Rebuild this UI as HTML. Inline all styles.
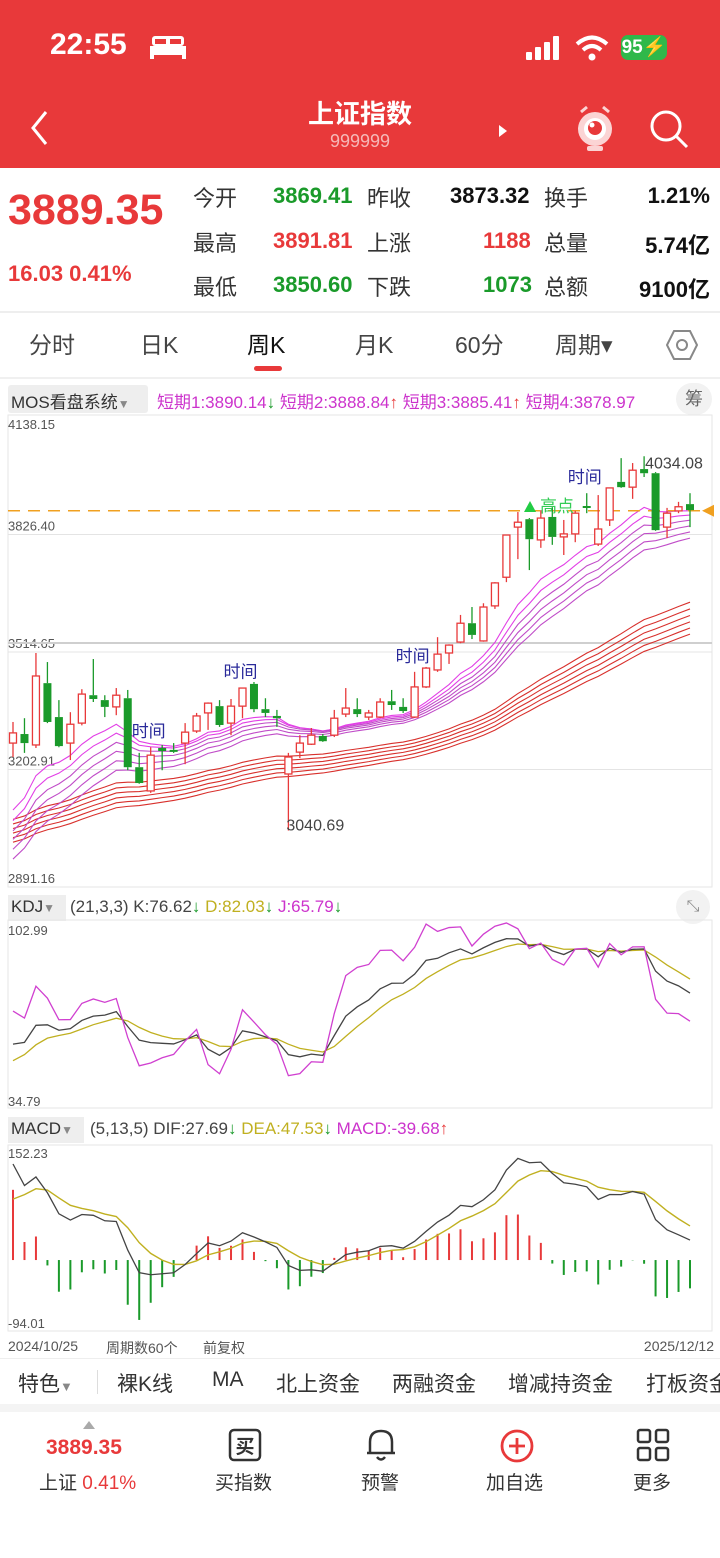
<!DOCTYPE html>
<html><head><meta charset="utf-8">
<style>
*{margin:0;padding:0;box-sizing:border-box}
body{width:720px;height:1558px;position:relative;background:#fff;font-family:"Liberation Sans","Noto Sans CJK SC",sans-serif;overflow:hidden}
.a{position:absolute;white-space:nowrap}
.hdr{position:absolute;left:0;top:0;width:720px;height:168px;background:#e8393a}
.lbl{font-size:22px;color:#333}
.g{color:#1a9a2a}.r{color:#e8393a}.k{color:#111}
.tab{font-size:23px;color:#444;top:326px}
.leg{font-size:17px;top:388px}
.small{font-size:14px;color:#555}
.t2{font-size:21px;color:#333;top:1368px}
.nav{font-size:19px;color:#333;top:1468px}
</style></head><body>
<div class="hdr"></div>
<div class="a" style="left:50px;top:28px;font-size:30px;font-weight:bold;color:#fff">22:55</div>
<svg class="a" style="left:150px;top:34px" width="36" height="26"><rect x="2" y="2" width="32" height="10" rx="3" fill="#fff"/><rect x="0" y="12" width="36" height="9" fill="#fff"/><rect x="0" y="20" width="4" height="5" fill="#fff"/><rect x="32" y="20" width="4" height="5" fill="#fff"/><rect x="5" y="5" width="11" height="5" fill="#e8393a"/><rect x="20" y="5" width="11" height="5" fill="#e8393a"/></svg>
<svg class="a" style="left:525px;top:36px" width="40" height="24"><rect x="1" y="16" width="6" height="8" rx="1" fill="#fff"/><rect x="10" y="11" width="6" height="13" rx="1" fill="#fff"/><rect x="19" y="6" width="6" height="18" rx="1" fill="#fff"/><rect x="28" y="0" width="6" height="24" rx="1" fill="#fff"/></svg>
<svg class="a" style="left:575px;top:34px" width="34" height="28"><path d="M2 10 Q17 -3 32 10" stroke="#fff" stroke-width="4" fill="none"/><path d="M8 16 Q17 8 26 16" stroke="#fff" stroke-width="4" fill="none"/><circle cx="17" cy="23" r="3.5" fill="#fff"/></svg>
<div class="a" style="left:621px;top:35px;width:46px;height:25px;background:#2fb84a;border-radius:7px;color:#fff;font-weight:bold;font-size:19px;text-align:center;line-height:25px">95⚡</div>
<svg class="a" style="left:28px;top:110px" width="24" height="36"><path d="M18 2 L5 18 L18 34" stroke="#fff" stroke-width="3" fill="none"/></svg>
<div class="a" style="left:0;width:720px;text-align:center;top:94px;font-size:26px;font-weight:bold;color:#fff">上证指数</div>
<div class="a" style="left:0;width:720px;text-align:center;top:131px;font-size:18px;color:#f6b8b8">999999</div>
<svg class="a" style="left:498px;top:124px" width="10" height="14"><path d="M1 1 L9 7 L1 13Z" fill="#fff"/></svg>
<svg class="a" style="left:573px;top:102px" width="44" height="50"><circle cx="22" cy="27" r="17" fill="#fbd4d4"/><circle cx="22" cy="27" r="11" fill="#fff"/><circle cx="22" cy="26" r="7" fill="#e8393a"/><circle cx="19" cy="23" r="2.5" fill="#fff"/><rect x="14" y="44" width="16" height="5" rx="2" fill="#fbd4d4"/><path d="M8 10 L14 5 M36 10 L30 5" stroke="#fbd4d4" stroke-width="3"/></svg>
<svg class="a" style="left:648px;top:108px" width="42" height="42"><circle cx="18" cy="18" r="14" stroke="#fff" stroke-width="3" fill="none"/><path d="M28 28 L39 39" stroke="#fff" stroke-width="3"/></svg>

<div class="a r" style="left:8px;top:186px;font-size:43px;font-weight:bold">3889.35</div>
<div class="a r" style="left:8px;top:261px;font-size:22px;font-weight:bold">16.03 0.41%</div>
<div class="a lbl" style="left:193px;top:181px">今开</div>
<div class="a lbl g" style="left:273px;top:183px;font-weight:bold">3869.41</div>
<div class="a lbl" style="left:367px;top:181px">昨收</div>
<div class="a lbl k" style="left:450px;top:183px;font-weight:bold">3873.32</div>
<div class="a lbl" style="left:544px;top:181px">换手</div>
<div class="a lbl k" style="right:10px;top:183px;font-weight:bold">1.21%</div>
<div class="a lbl" style="left:193px;top:226px">最高</div>
<div class="a lbl r" style="left:273px;top:228px;font-weight:bold">3891.81</div>
<div class="a lbl" style="left:367px;top:226px">上涨</div>
<div class="a lbl r" style="left:483px;top:228px;font-weight:bold">1188</div>
<div class="a lbl" style="left:544px;top:226px">总量</div>
<div class="a lbl k" style="right:10px;top:228px;font-weight:bold">5.74亿</div>
<div class="a lbl" style="left:193px;top:270px">最低</div>
<div class="a lbl g" style="left:273px;top:272px;font-weight:bold">3850.60</div>
<div class="a lbl" style="left:367px;top:270px">下跌</div>
<div class="a lbl g" style="left:483px;top:272px;font-weight:bold">1073</div>
<div class="a lbl" style="left:544px;top:270px">总额</div>
<div class="a lbl k" style="right:10px;top:272px;font-weight:bold">9100亿</div>
<div class="a" style="left:0;top:311px;width:720px;height:2px;background:#eee"></div>

<div class="a tab" style="left:29px">分时</div>
<div class="a tab" style="left:140px">日K</div>
<div class="a tab" style="left:247px;color:#111">周K</div>
<div class="a" style="left:254px;top:366px;width:28px;height:5px;border-radius:3px;background:#e8393a"></div>
<div class="a tab" style="left:355px">月K</div>
<div class="a tab" style="left:455px">60分</div>
<div class="a tab" style="left:555px">周期▾</div>
<svg class="a" style="left:666px;top:329px" width="32" height="32"><polygon points="8,2 24,2 31,16 24,30 8,30 1,16" stroke="#888" stroke-width="2" fill="none"/><circle cx="16" cy="16" r="5" stroke="#888" stroke-width="2" fill="none"/></svg>
<div class="a" style="left:0;top:377px;width:720px;height:2px;background:#f0f0f0"></div>

<div class="a leg" style="left:8px;top:385px;height:28px;width:140px;background:#eee;border-radius:3px;color:#333;padding:3px 3px">MOS看盘系统<span style="color:#888;font-size:12px">▼</span></div>
<div class="a leg" style="left:157px;color:#cc33cc">短期1:3890.14<span class="g">↓</span> 短期2:3888.84<span class="r">↑</span> 短期3:3885.41<span class="r">↑</span> 短期4:3878.97</div>
<div class="a" style="left:676px;top:383px;width:36px;height:32px;background:#f2f2f2;border-radius:16px;font-size:18px;color:#666;text-align:center;line-height:32px">筹</div>

<div class="a leg" style="left:8px;top:895px;height:26px;width:58px;background:#eee;color:#333;padding:2px 3px">KDJ<span style="color:#888;font-size:12px">▼</span></div>
<div class="a leg" style="left:70px;top:897px;color:#444">(21,3,3) K:76.62<span class="g">↓</span> <span style="color:#c0b020">D:82.03</span><span class="g">↓</span> <span style="color:#cc33cc">J:65.79</span><span class="g">↓</span></div>
<div class="a" style="left:676px;top:890px;width:34px;height:34px;background:#f2f2f2;border-radius:17px;font-size:16px;color:#888;text-align:center;line-height:34px">⤡</div>
<div class="a leg" style="left:8px;top:1117px;height:26px;width:76px;background:#eee;color:#333;padding:2px 3px">MACD<span style="color:#888;font-size:12px">▼</span></div>
<div class="a leg" style="left:90px;top:1119px;color:#444">(5,13,5) DIF:27.69<span class="g">↓</span> <span style="color:#c0b020">DEA:47.53</span><span class="g">↓</span> <span style="color:#cc33cc">MACD:-39.68</span><span class="r">↑</span></div>

<svg id="chart" class="a" style="left:0;top:0" width="720" height="1360"></svg>

<div class="a small" style="left:8px;top:1338px">2024/10/25</div>
<div class="a small" style="left:106px;top:1338px">周期数60个</div>
<div class="a small" style="left:203px;top:1338px">前复权</div>
<div class="a small" style="right:6px;top:1338px">2025/12/12</div>
<div class="a" style="left:0;top:1358px;width:720px;height:1px;background:#eee"></div>
<div class="a t2" style="left:18px">特色<span style="font-size:13px;color:#888">▼</span></div>
<div class="a" style="left:97px;top:1370px;width:1px;height:24px;background:#ddd"></div>
<div class="a t2" style="left:117px">裸K线</div>
<div class="a t2" style="left:212px">MA</div>
<div class="a t2" style="left:276px">北上资金</div>
<div class="a t2" style="left:392px">两融资金</div>
<div class="a t2" style="left:508px">增减持资金</div>
<div class="a t2" style="left:646px">打板资金</div>
<div class="a" style="left:0;top:1404px;width:720px;height:8px;background:#f4f4f4"></div>

<svg class="a" style="left:82px;top:1420px" width="14" height="10"><path d="M1 9 L7 1 L13 9Z" fill="#aaa"/></svg>
<div class="a r" style="left:46px;top:1436px;font-size:21px;font-weight:bold">3889.35</div>
<div class="a nav" style="left:39px">上证 <span class="r">0.41%</span></div>
<svg class="a" style="left:228px;top:1428px" width="34" height="34"><rect x="2" y="2" width="30" height="30" rx="4" stroke="#333" stroke-width="2.5" fill="none"/><text x="17" y="25" text-anchor="middle" font-size="19" font-weight="bold" fill="#333" font-family="Noto Sans CJK SC">买</text></svg>
<div class="a nav" style="left:215px">买指数</div>
<svg class="a" style="left:364px;top:1427px" width="34" height="36"><path d="M6 26 L6 15 Q6 4 17 4 Q28 4 28 15 L28 26 Z M3 26 L31 26" stroke="#333" stroke-width="2.5" fill="none"/><path d="M13 30 Q17 35 21 30" stroke="#333" stroke-width="2.5" fill="none"/></svg>
<div class="a nav" style="left:361px">预警</div>
<svg class="a" style="left:499px;top:1428px" width="36" height="36"><circle cx="18" cy="18" r="15" stroke="#e8393a" stroke-width="2.8" fill="none"/><path d="M18 10 V26 M10 18 H26" stroke="#e8393a" stroke-width="2.8"/></svg>
<div class="a nav" style="left:486px">加自选</div>
<svg class="a" style="left:636px;top:1428px" width="34" height="34"><rect x="2" y="2" width="12" height="12" rx="2" stroke="#333" stroke-width="2.5" fill="none"/><rect x="20" y="2" width="12" height="12" rx="2" stroke="#333" stroke-width="2.5" fill="none"/><rect x="2" y="20" width="12" height="12" rx="2" stroke="#333" stroke-width="2.5" fill="none"/><rect x="20" y="20" width="12" height="12" rx="2" stroke="#333" stroke-width="2.5" fill="none"/></svg>
<div class="a nav" style="left:633px">更多</div>

<script>
const opens=[3273,3297,3268,3432,3342,3273,3326,3400,3387,3369,3392,3209,3146,3260,3255,3273,3305,3353,3371,3326,3371,3430,3363,3345,3191,3249,3270,3292,3294,3350,3363,3342,3342,3384,3369,3342,3422,3467,3512,3541,3591,3544,3637,3713,3846,3867,3812,3873,3820,3828,3902,3801,3865,3966,3952,4000,3989,3846,3889,3907];
const highs=[3329,3339,3512,3488,3387,3355,3416,3496,3400,3419,3414,3247,3262,3268,3273,3326,3353,3381,3387,3390,3420,3435,3392,3361,3247,3294,3313,3297,3361,3419,3392,3361,3392,3414,3392,3462,3475,3554,3535,3613,3634,3644,3700,3826,3886,3870,3891,3899,3865,3889,3936,3931,3950,4029,4016,4034,3992,3897,3913,3936];
const lows=[3236,3247,3260,3326,3262,3228,3320,3382,3342,3347,3201,3165,3141,3201,3247,3217,3300,3308,3316,3294,3339,3355,3342,3316,3041,3233,3268,3276,3289,3342,3342,3334,3339,3361,3353,3340,3419,3462,3483,3538,3549,3542,3629,3700,3761,3732,3791,3799,3772,3806,3883,3796,3849,3950,3921,3979,3836,3817,3883,3846];
const closes=[3300,3273,3451,3329,3265,3323,3403,3390,3369,3400,3209,3167,3241,3252,3250,3302,3345,3379,3321,3371,3419,3363,3353,3339,3236,3273,3294,3278,3339,3366,3350,3353,3382,3374,3358,3422,3472,3509,3533,3591,3560,3634,3698,3825,3859,3814,3870,3820,3828,3883,3897,3841,3950,3952,3997,3989,3838,3883,3900,3891];
const priorHighs=[2760,3087,3674,3324,3330];
const priorLows=[2689,2750,3241,3153,3150];
const priceTicks=[4138.15,3826.40,3514.65,3202.91,2891.16];
const kdjTicks=[102.99,34.79];
const macdTicks=[152.23,-94.01];
const shortPeriods=[10,12,14,16,18,20];
const shortSeeds=[3050,3025,3000,2980,2955,2930];
const longPeriods=[44,47,50,53,56,59];
const longSeeds=[3060,3048,3036,3024,3012,3000];
const markers=[{i:12,text:"时间"},{i:20,text:"时间"},{i:35,text:"时间"},{i:50,text:"时间"}];
const currentPrice=3889.35;

const svg=document.getElementById('chart');
const NS='http://www.w3.org/2000/svg';
function mk(tag,attrs,parent){const e=document.createElementNS(NS,tag);for(const k in attrs)e.setAttribute(k,attrs[k]);(parent||svg).appendChild(e);return e;}
const N=closes.length;
const X=i=>13+i*(677/(N-1));
const P0=417,P1=887;
const Y=v=>P0+(priceTicks[0]-v)/(priceTicks[0]-priceTicks[4])*(P1-P0);
const KY0=923,KY1=1104;
const KY=v=>KY0+(kdjTicks[0]-v)/(kdjTicks[0]-kdjTicks[1])*(KY1-KY0);
const MY0=1150,MY1=1328;
const MY=v=>MY0+(macdTicks[0]-v)/(macdTicks[0]-macdTicks[1])*(MY1-MY0);

let f;
f=mk('rect',{x:8,y:415,width:704,height:472,fill:'none',stroke:'#e6e6e6'});

f=mk('rect',{x:8,y:920,width:704,height:188,fill:'none',stroke:'#e6e6e6'});

f=mk('rect',{x:8,y:1145,width:704,height:186,fill:'none',stroke:'#e6e6e6'});


priceTicks.forEach((t,k)=>{
  const y=Y(t);
  if(k>0&&k<4){const l=mk('line',{x1:8,x2:712,y1:y,y2:y,stroke:'#e4e4e4'});}
  const tx=mk('text',{x:8,y:k==0?y+12:y-4,'font-size':13,fill:'#555','font-family':'Liberation Sans'});
  
  tx.textContent=t.toFixed(2);
});
let gl=mk('line',{x1:8,x2:712,y1:643,y2:643,stroke:'#cfcfcf','stroke-width':2});


function ema(arr,p,seed){const a=2/(p+1);let v=seed;return arr.map(c=>(v=v+a*(c-v)));}
function poly(vals,yf,color,w,name){
  const pl=mk('polyline',{points:vals.map((v,i)=>X(i)+','+yf(v)).join(' '),fill:'none',stroke:color,'stroke-width':w});
  return pl;
}
longPeriods.forEach((p,k)=>poly(ema(closes,p,longSeeds[k]),Y,'#d8302c',1.1,'long-ma-line'));
shortPeriods.forEach((p,k)=>poly(ema(closes,p,shortSeeds[k]),Y,k<2?'#e23fe6':'#c04cc8',1.1,'short-ma-line'));

let cl=mk('line',{x1:8,x2:700,y1:Y(currentPrice),y2:Y(currentPrice),stroke:'#f0a020','stroke-width':1.5,'stroke-dasharray':'12,8'});

let ct=mk('path',{d:`M702 ${Y(currentPrice)} L714 ${Y(currentPrice)-6} L714 ${Y(currentPrice)+6}Z`,fill:'#f0a020'});


for(let i=0;i<N;i++){
  const up=closes[i]>=opens[i];const col=up?'#e8393a':'#1a9a2a';const x=X(i);
  const g=mk('g',{});
  
  
  const top=Y(Math.max(opens[i],closes[i])),bot=Y(Math.min(opens[i],closes[i]));
  mk('line',{x1:x,x2:x,y1:Y(highs[i]),y2:top,stroke:col,'stroke-width':1.3},g);
  mk('line',{x1:x,x2:x,y1:bot,y2:Y(lows[i]),stroke:col,'stroke-width':1.3},g);
  if(up) mk('rect',{x:x-3.5,y:top,width:7,height:Math.max(bot-top,1.5),fill:'#fff',stroke:col,'stroke-width':1.3},g);
  else mk('rect',{x:x-4,y:top,width:8,height:Math.max(bot-top,2),fill:col},g);
}
markers.forEach(m=>{
  const t=mk('text',{x:X(m.i)-2,y:Y(highs[m.i])-10,'font-size':17,fill:'#2a2a9a','font-family':'Noto Sans CJK SC','text-anchor':'middle'});
  
  t.textContent=m.text;
});
let li=lows.indexOf(Math.min(...lows)),hi=highs.indexOf(Math.max(...highs));
let lt=mk('text',{x:X(li)-2,y:Y(lows[li]),'font-size':16,fill:'#444','font-family':'Liberation Sans'});
lt.textContent=lows[li]===3041?'3040.69':lows[li].toFixed(2);
let ht=mk('text',{x:X(hi)+1,y:Y(highs[hi])+12,'font-size':16,fill:'#444','font-family':'Liberation Sans'});
ht.textContent=highs[hi]===4034?'4034.08':highs[hi].toFixed(2);
let hp=mk('g',{});

mk('path',{d:'M524 512 L530 501 L536 512Z',fill:'#22cc44'},hp);
const hpt=mk('text',{x:540,y:512,'font-size':17,fill:'#33cc55','font-family':'Noto Sans CJK SC'},hp);hpt.textContent='高点';

// KDJ with prior-week history for the window
const allH=priorHighs.concat(highs),allL=priorLows.concat(lows),off=priorHighs.length;
const Ks=[],Ds=[],Js=[];let K=55,D=48;
for(let i=0;i<N;i++){
  const j=i+off;const s=Math.max(0,j-20);
  const hh=Math.max(...allH.slice(s,j+1)),ll=Math.min(...allL.slice(s,j+1));
  const rsv=hh>ll?(closes[i]-ll)/(hh-ll)*100:50;
  K=(2*K+rsv)/3;D=(2*D+K)/3;Ks.push(K);Ds.push(D);Js.push(3*K-2*D);
}
const clipK=v=>Math.max(kdjTicks[1]-3,Math.min(kdjTicks[0]+3,v));
poly(Ds.map(clipK),KY,'#c0b020',1.3,'kdj-d-line');
poly(Ks.map(clipK),KY,'#444',1.3,'kdj-k-line');
poly(Js.map(clipK),KY,'#d040d0',1.3,'kdj-j-line');
kdjTicks.forEach((t,k)=>{const tx=mk('text',{x:8,y:k==0?KY(t)+12:KY(t)+2,'font-size':13,fill:'#555','font-family':'Liberation Sans'});tx.textContent=t.toFixed(2);});

// MACD
const e5=ema(closes,5,3345),e13=ema(closes,13,3180);
const difs=e5.map((v,i)=>v-e13[i]);const deas=ema(difs,5,60);
const bars=difs.map((v,i)=>2*(v-deas[i]));
const clipM=v=>Math.max(macdTicks[1],Math.min(macdTicks[0],v));
bars.forEach((b,i)=>{const l=mk('line',{x1:X(i),x2:X(i),y1:MY(0),y2:MY(clipM(b)),stroke:b>=0?'#e8393a':'#1a9a2a','stroke-width':2});});
poly(deas.map(clipM),MY,'#c0b020',1.4,'dea-line');
poly(difs.map(clipM),MY,'#444',1.3,'dif-line');
macdTicks.forEach((t,k)=>{const tx=mk('text',{x:8,y:k==0?MY(t)+8:MY(t),'font-size':13,fill:'#555','font-family':'Liberation Sans'});tx.textContent=t.toFixed(2);});
</script>
</body></html>
